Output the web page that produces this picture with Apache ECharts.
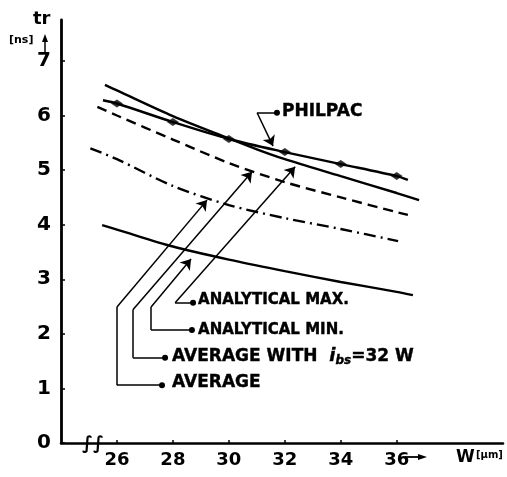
<!DOCTYPE html>
<html>
<head>
<meta charset="utf-8">
<script src="https://cdn.jsdelivr.net/npm/echarts@6/dist/echarts.min.js"></script>
<style>
  html, body { margin: 0; padding: 0; background: #fff; }
  #chart { width: 507px; height: 477px; }
</style>
</head>
<body>
<div id="chart"></div>
<script>
// axis ticks
const wTicks = [26, 28, 30, 32, 34, 36];
const trTicks = [0, 1, 2, 3, 4, 5, 6, 7];

// curves (W in um, tr in ns)
const philpacW = [25.5, 26, 28, 30, 32, 34, 36, 36.4];
const philpacTr = [6.28, 6.22, 5.88, 5.57, 5.33, 5.11, 4.89, 4.82];
const philpacMarkW = [26, 28, 30, 32, 34, 36];

const anaMaxW = [25.57, 26, 28, 30, 31, 32, 34, 36, 36.8];
const anaMaxTr = [6.56, 6.46, 5.99, 5.58, 5.38, 5.2, 4.89, 4.58, 4.45];

const avgIbsW = [25.3, 26, 28, 30, 32, 34, 36, 36.4];
const avgIbsTr = [6.16, 6.0, 5.56, 5.13, 4.78, 4.5, 4.23, 4.18];

const avgW = [25.05, 26, 28, 30, 32, 34, 36.05];
const avgTr = [5.4, 5.2, 4.71, 4.36, 4.12, 3.92, 3.7];

const anaMinW = [25.47, 26, 28, 30, 32, 34, 36, 36.58];
const anaMinTr = [3.99, 3.91, 3.6, 3.36, 3.15, 2.95, 2.77, 2.71];

// leader lines: from label dot to arrow tip
const leadAvg = [[27.61, 1.06], [26.0, 1.06], [26.0, 2.49], [29.22, 4.45]];
const leadAvgIbs = [[27.72, 1.56], [26.57, 1.56], [26.57, 2.44], [30.83, 4.97]];
const leadAnaMin = [[28.68, 2.07], [27.22, 2.07], [27.22, 2.49], [28.65, 3.37]];
const leadAnaMax = [[28.72, 2.57], [28.08, 2.57], [32.37, 5.06]];
const leadPhilpac = [[31.72, 6.05], [31.01, 6.05], [31.58, 5.44]];

// label anchors (left-middle of text)
const labelNames = ["PHILPAC", "ANALYTICAL MAX.", "ANALYTICAL MIN.", "AVERAGE WITH", "AVERAGE"];
const labelPos = [[31.9, 6.08], [28.9, 2.62], [28.9, 2.07], [27.97, 1.58], [27.97, 1.1]];

const FONT = "DejaVu Sans";
const zip = (xs, ys) => xs.map((x, i) => [x, ys[i]]);
const leaders = [leadAvg, leadAvgIbs, leadAnaMin, leadAnaMax, leadPhilpac];

// split each leader into first / middle / last segments so the ends can carry symbols
const firstSegs = [], midSegs = [], lastSegs = [];
leaders.forEach(pts => {
  for (let i = 0; i < pts.length - 1; i++) {
    const seg = { coords: [pts[i], pts[i + 1]] };
    if (i === 0) firstSegs.push(seg);
    else if (i === pts.length - 2) lastSegs.push(seg);
    else midSegs.push(seg);
  }
});

const chart = echarts.init(document.getElementById("chart"), null, { renderer: "canvas" });

function curve(name, xs, ys, type) {
  return {
    name, type: "line", data: zip(xs, ys), smooth: 0.3, showSymbol: false,
    lineStyle: { color: "#000", width: 2.4, type: type || "solid" },
    z: 3
  };
}

function leaderSeries(name, data, symbol) {
  return {
    name, type: "lines", coordinateSystem: "cartesian2d",
    symbol, symbolSize: [6, 10],
    lineStyle: { color: "#000", width: 1.5, opacity: 1, curveness: 0 },
    itemStyle: { color: "#000" },
    data, z: 5, silent: true
  };
}

const ink = { color: "#000", textBorderColor: "#000", textBorderWidth: 0.4 };
const labelRich = {
  big: { fontFamily: FONT, fontWeight: "bold", fontSize: 17, ...ink },
  small: { fontFamily: FONT, fontWeight: "bold", fontSize: 15, ...ink },
  it: { fontFamily: FONT, fontStyle: "italic", fontWeight: "bold", fontSize: 18, ...ink },
  sub: { fontFamily: FONT, fontStyle: "italic", fontWeight: "bold", fontSize: 12, padding: [8, 0, 0, 0], ...ink }
};

function labelText(name) {
  if (name === "AVERAGE WITH") return "{big|AVERAGE WITH  }{it|i}{sub|bs}{big|=32 W}";
  if (name.startsWith("ANALYTICAL")) return "{small|" + name + "}";
  return "{big|" + name + "}";
}

const option = {
  animation: false,
  backgroundColor: "#fff",
  grid: { left: 61, right: 4, top: 20, bottom: 34 },
  xAxis: {
    type: "value", min: 24, max: 39.8, interval: 2,
    axisLine: { onZero: false, lineStyle: { color: "#000", width: 2.5 } },
    axisTick: { show: true, inside: true, length: 3, customValues: wTicks, lineStyle: { color: "#000", width: 1.5 } },
    axisLabel: {
      customValues: wTicks, color: "#000", fontFamily: FONT, fontWeight: "bold", fontSize: 18, margin: 8
    },
    splitLine: { show: false }
  },
  yAxis: {
    type: "value", min: 0, max: 7.75, interval: 1,
    axisLine: { show: true, lineStyle: { color: "#000", width: 2.8 } },
    axisTick: { show: true, inside: true, length: 4, customValues: trTicks, lineStyle: { color: "#000", width: 1.5 } },
    axisLabel: {
      customValues: trTicks, color: "#000", fontFamily: FONT, fontWeight: "bold", fontSize: 20, margin: 10
    },
    splitLine: { show: false }
  },
  graphic: [
    { type: "text", left: 33, top: 10, style: { text: "tr", font: "bold 18px " + FONT, fill: "#000" } },
    { type: "text", left: 9, top: 35, style: { text: "[ns]", font: "bold 11px " + FONT, fill: "#000" } },
    { type: "line", shape: { x1: 45, y1: 53, x2: 45, y2: 38 }, style: { stroke: "#000", lineWidth: 1.5 } },
    { type: "polygon", shape: { points: [[45, 34], [42, 42], [48, 42]] }, style: { fill: "#000" } },
    { type: "text", left: 82, top: 435, style: { text: "\u222B\u222B", font: "bold italic 18px " + FONT, fill: "#000" } },
    { type: "line", shape: { x1: 405, y1: 457, x2: 420, y2: 457 }, style: { stroke: "#000", lineWidth: 1.8 } },
    { type: "polygon", shape: { points: [[427, 457], [418, 454], [418, 460]] }, style: { fill: "#000" } },
    { type: "text", left: 456, top: 449, style: { text: "W", font: "bold 17px " + FONT, fill: "#000" } },
    { type: "text", left: 476, top: 450, style: { text: "[\u00B5m]", font: "bold 10px " + FONT, fill: "#000" } }
  ],
  series: [
    curve("ANALYTICAL MAX.", anaMaxW, anaMaxTr),
    curve("PHILPAC", philpacW, philpacTr),
    {
      name: "PHILPAC points", type: "scatter", symbol: "diamond", symbolSize: [12, 8],
      data: philpacMarkW.map(w => [w, philpacTr[philpacW.indexOf(w)]]),
      itemStyle: { color: "#000" }, z: 4
    },
    curve("AVERAGE WITH ibs=32W", avgIbsW, avgIbsTr, [10, 6]),
    curve("AVERAGE", avgW, avgTr, [12, 5, 2, 5]),
    curve("ANALYTICAL MIN.", anaMinW, anaMinTr),
    leaderSeries("leader start", firstSegs, ["circle", "none"]),
    leaderSeries("leader mid", midSegs, ["none", "none"]),
    leaderSeries("leader end", lastSegs, ["none", "arrow"]),
    {
      name: "labels", type: "scatter", symbolSize: 0, silent: true,
      itemStyle: { opacity: 1 },
      data: labelNames.map((n, i) => ({ name: n, value: labelPos[i] })),
      label: {
        show: true, position: "right", distance: 0, color: "#000", opacity: 1,
        formatter: p => labelText(p.name), rich: labelRich
      },
      z: 6
    }
  ]
};

chart.setOption(option);
</script>
</body>
</html>
